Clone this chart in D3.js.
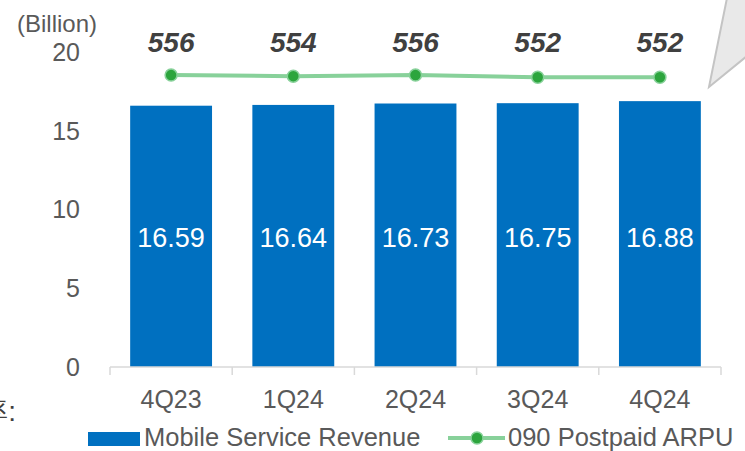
<!DOCTYPE html>
<html>
<head>
<meta charset="utf-8">
<script src="https://cdn.jsdelivr.net/npm/d3@7"></script>
<style>
  body { margin: 0; background: #fff; }
  svg { display: block; font-family: Arial, "Liberation Sans", sans-serif; }
</style>
</head>
<body>
<svg id="chart" width="745" height="451"></svg>
<script>
var quarters = ["4Q23", "1Q24", "2Q24", "3Q24", "4Q24"];
var revenue = [16.59, 16.64, 16.73, 16.75, 16.88];
var arpu = [556, 554, 556, 552, 552];
var yTicks = [0, 5, 10, 15, 20];

var svg = d3.select("#chart");
var plotLeft = 110, plotRight = 721, plotTop = 52, plotBottom = 367;

var x = d3.scaleBand().domain(quarters).range([plotLeft, plotRight]).paddingInner(0.33).paddingOuter(0.165);
var y = d3.scaleLinear().domain([0, 20]).range([plotBottom, plotTop]);
var y2 = d3.scaleLinear().domain([0, 600]).range([plotBottom, plotTop]);

// callout shape top right
svg.append("polygon")
    .attr("points", "727,-2 747,-2 747,56 709,87")
    .attr("fill", "#e9e9e9")
    .attr("stroke", "#c4c4c4")
    .attr("stroke-width", 2);

// cut-off text on left edge
svg.append("text")
    .attr("x", 16).attr("y", 421)
    .attr("text-anchor", "end")
    .attr("font-size", 28)
    .attr("fill", "#404040")
    .text("率:");

// y axis labels
svg.append("g").selectAll("text")
    .data(yTicks)
    .enter().append("text")
    .attr("x", 80)
    .attr("y", function (d) { return y(d); })
    .attr("dy", "0.35em")
    .attr("text-anchor", "end")
    .attr("font-size", 25)
    .attr("fill", "#595959")
    .text(function (d) { return d; });

svg.append("text")
    .attr("x", 57).attr("y", 32)
    .attr("text-anchor", "middle")
    .attr("font-size", 24)
    .attr("fill", "#595959")
    .text("(Billion)");

// bars
svg.append("g").selectAll("rect")
    .data(revenue)
    .enter().append("rect")
    .attr("x", function (d, i) { return x(quarters[i]); })
    .attr("y", function (d) { return y(d); })
    .attr("width", x.bandwidth())
    .attr("height", function (d) { return y(0) - y(d); })
    .attr("fill", "#0070c0");

svg.append("g").selectAll("text")
    .data(revenue)
    .enter().append("text")
    .attr("x", function (d, i) { return x(quarters[i]) + x.bandwidth() / 2; })
    .attr("y", 247)
    .attr("text-anchor", "middle")
    .attr("font-size", 27)
    .attr("fill", "#fff")
    .text(function (d) { return d.toFixed(2); });

// x axis
var xAxis = svg.append("g")
    .attr("transform", "translate(0," + plotBottom + ")")
    .call(d3.axisBottom(x).tickSize(0).tickPadding(23));
xAxis.select(".domain").remove();
xAxis.selectAll("text").attr("font-size", 25).attr("fill", "#595959").attr("font-family", "Arial, 'Liberation Sans', sans-serif");
var step = x.step();
var bounds = quarters.map(function (q) { return x(q) - x.paddingInner() * step / 2; });
bounds.push(plotRight);
svg.append("line")
    .attr("x1", plotLeft).attr("x2", plotRight)
    .attr("y1", plotBottom).attr("y2", plotBottom)
    .attr("stroke", "#d9d9d9").attr("stroke-width", 1.5);
svg.append("g").selectAll("line")
    .data(bounds)
    .enter().append("line")
    .attr("x1", function (d) { return d; }).attr("x2", function (d) { return d; })
    .attr("y1", plotBottom).attr("y2", plotBottom + 8)
    .attr("stroke", "#d9d9d9").attr("stroke-width", 1.5);

// ARPU line
var line = d3.line()
    .x(function (d, i) { return x(quarters[i]) + x.bandwidth() / 2; })
    .y(function (d) { return y2(d); });
svg.append("path")
    .datum(arpu)
    .attr("d", line)
    .attr("fill", "none")
    .attr("stroke", "#88d19a")
    .attr("stroke-width", 4);
svg.append("g").selectAll("circle")
    .data(arpu)
    .enter().append("circle")
    .attr("cx", function (d, i) { return x(quarters[i]) + x.bandwidth() / 2; })
    .attr("cy", function (d) { return y2(d); })
    .attr("r", 6)
    .attr("fill", "#2ca53d")
    .attr("stroke", "#88d19a")
    .attr("stroke-width", 1.5);
svg.append("g").selectAll("text")
    .data(arpu)
    .enter().append("text")
    .attr("x", function (d, i) { return x(quarters[i]) + x.bandwidth() / 2; })
    .attr("y", 52)
    .attr("text-anchor", "middle")
    .attr("font-size", 28)
    .attr("font-weight", "bold")
    .attr("font-style", "italic")
    .attr("fill", "#404040")
    .text(function (d) { return d; });

// legend
var leg = svg.append("g");
leg.append("rect")
    .attr("x", 88).attr("y", 432).attr("width", 52).attr("height", 14)
    .attr("fill", "#0070c0");
leg.append("text")
    .attr("x", 144).attr("y", 446)
    .attr("font-size", 25.5).attr("fill", "#595959")
    .text("Mobile Service Revenue");
leg.append("line")
    .attr("x1", 448).attr("x2", 505).attr("y1", 438).attr("y2", 438)
    .attr("stroke", "#88d19a").attr("stroke-width", 4);
leg.append("circle")
    .attr("cx", 477).attr("cy", 438).attr("r", 6)
    .attr("fill", "#2ca53d").attr("stroke", "#88d19a").attr("stroke-width", 1.5);
leg.append("text")
    .attr("x", 508).attr("y", 446)
    .attr("font-size", 25.5).attr("fill", "#595959")
    .text("090 Postpaid ARPU");
</script>
</body>
</html>
